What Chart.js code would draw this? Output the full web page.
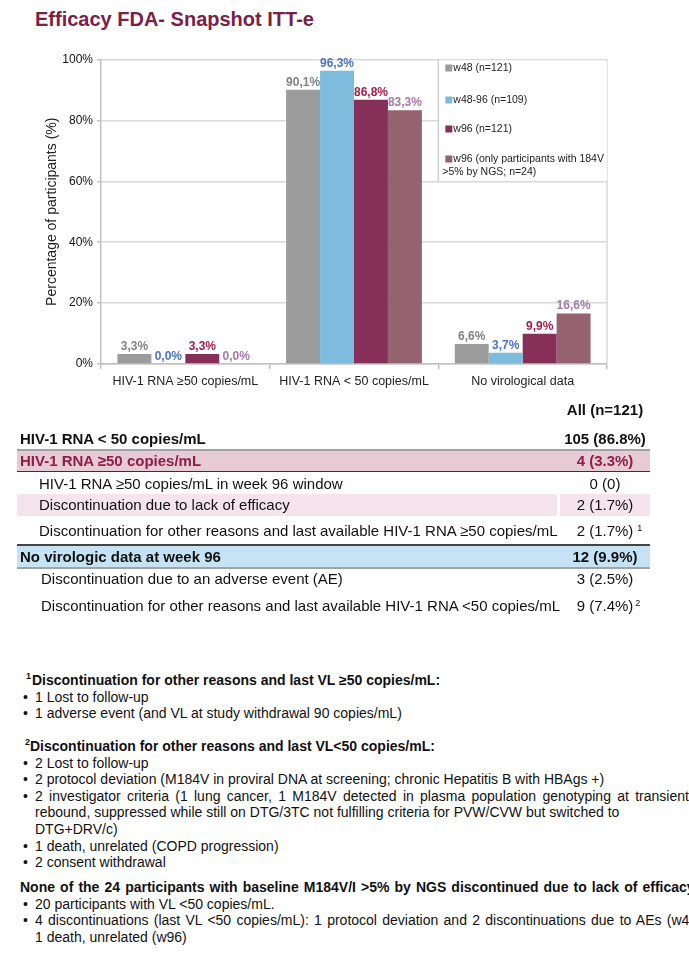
<!DOCTYPE html>
<html>
<head>
<meta charset="utf-8">
<script src="https://cdn.jsdelivr.net/npm/chart.js@4.4.1/dist/chart.umd.min.js"></script>
<style>
  html, body { margin: 0; padding: 0; background: #fff; }
  body { width: 689px; height: 956px; position: relative; overflow: hidden;
         font-family: "Liberation Sans", Arial, sans-serif; color: #111; }
  #title { position: absolute; left: 35px; top: 7px; font-size: 20px; font-weight: bold;
           color: #7B2146; line-height: 24px; white-space: nowrap; }
  #wrap { position: absolute; left: 0; top: 40px; width: 640px; height: 360px; }

  .ln { position: absolute; left: 17px; width: 633px; height: 22px; line-height: 22px;
        font-size: 15px; white-space: nowrap; }
  .ln .lab { position: absolute; left: 3px; top: 0; }
  .ln .lab.ind { left: 22px; }
  .ln .lab.ind2 { left: 24px; }
  .ln .val { position: absolute; left: 543px; width: 90px; top: 0; text-align: center; }
  .ln .sup { position: absolute; font-size: 9px; top: -5px; margin-left: 4px; }
  .b { font-weight: bold; }

  .fn { position: absolute; left: 0; width: 689px; font-size: 14px; line-height: 16.6px;
        white-space: nowrap; color: #111; }
  .fn .h { font-weight: bold; position: relative; }
  .fn .h .s { position: absolute; font-size: 9px; top: -4px; }
  .fn .bl { position: relative; padding-left: 35px; }
  .fn .bl::before { content: "\2022"; position: absolute; left: 23px; }
  .fn .cont { padding-left: 35px; }
</style>
</head>
<body>
<div id="title">Efficacy FDA- Snapshot ITT-e</div>
<div id="wrap"><canvas id="effChart"></canvas></div>

<!-- snapshot table -->
<div class="ln" style="top:399px"><span class="val b">All (n=121)</span></div>
<div class="ln b" style="top:428px;height:21px;line-height:21px;border-bottom:2px solid #A3A3A3">
  <span class="lab">HIV-1 RNA &lt; 50 copies/mL</span><span class="val">105 (86.8%)</span></div>
<div class="ln b" style="top:451px;height:20px;line-height:20px;background:#E6CBD5;color:#8E1D48;border-bottom:1.5px solid #333">
  <span class="lab">HIV-1 RNA ≥50 copies/mL</span><span class="val">4 (3.3%)</span></div>
<div class="ln" style="top:472.5px">
  <span class="lab ind">HIV-1 RNA ≥50 copies/mL in week 96 window</span><span class="val">0 (0)</span></div>
<div class="ln" style="top:494px">
  <span style="position:absolute;left:0;top:0;width:540px;height:22px;background:#F5E4EB"></span>
  <span style="position:absolute;left:543px;top:0;width:90px;height:22px;background:#F5E4EB"></span>
  <span class="lab ind">Discontinuation due to lack of efficacy</span><span class="val">2 (1.7%)</span></div>
<div class="ln" style="top:520px">
  <span class="lab ind">Discontinuation for other reasons and last available HIV-1 RNA ≥50 copies/mL</span>
  <span class="val"><span style="position:relative">2 (1.7%)<span class="sup">1</span></span></span></div>
<div class="ln b" style="top:544px;height:21px;line-height:21px;background:#C6E3F6;border-top:2px solid #444;border-bottom:2px solid #A3A3A3">
  <span class="lab">No virologic data at week 96</span><span class="val">12 (9.9%)</span></div>
<div class="ln" style="top:568px">
  <span class="lab ind2">Discontinuation due to an adverse event (AE)</span><span class="val">3 (2.5%)</span></div>
<div class="ln" style="top:595px">
  <span class="lab ind2">Discontinuation for other reasons and last available HIV-1 RNA &lt;50 copies/mL</span>
  <span class="val"><span style="position:relative">9 (7.4%)<span class="sup" style="margin-left:2px">2</span></span></span></div>

<!-- footnotes -->
<div class="fn" style="top:672px">
  <div class="h"><span class="s" style="left:26px">1</span><span style="padding-left:32px">Discontinuation for other reasons and last VL ≥50 copies/mL:</span></div>
  <div class="bl">1 Lost to follow-up</div>
  <div class="bl">1 adverse event (and VL at study withdrawal 90 copies/mL)</div>
</div>
<div class="fn" style="top:738px">
  <div class="h"><span class="s" style="left:25px">2</span><span style="padding-left:30px">Discontinuation for other reasons and last VL&lt;50 copies/mL:</span></div>
  <div class="bl">2 Lost to follow-up</div>
  <div class="bl">2 protocol deviation (M184V in proviral DNA at screening; chronic Hepatitis B with HBAgs +)</div>
  <div class="bl" style="word-spacing:2.4px">2 investigator criteria (1 lung cancer, 1 M184V detected in plasma population genotyping at transient</div>
  <div class="cont">rebound, suppressed while still on DTG/3TC not fulfilling criteria for PVW/CVW but switched to</div>
  <div class="cont">DTG+DRV/c)</div>
  <div class="bl">1 death, unrelated (COPD progression)</div>
  <div class="bl">2 consent withdrawal</div>
</div>
<div class="fn" style="top:879px">
  <div class="h" style="padding-left:20px;word-spacing:1.2px">None of the 24 participants with baseline M184V/I &gt;5% by NGS discontinued due to lack of efficacy</div>
  <div class="bl">20 participants with VL &lt;50 copies/mL.</div>
  <div class="bl" style="word-spacing:1.4px">4 discontinuations (last VL &lt;50 copies/mL): 1 protocol deviation and 2 discontinuations due to AEs (w48),</div>
  <div class="cont">1 death, unrelated (w96)</div>
</div>

<script>
// Snapshot efficacy chart
const categories = ['HIV-1 RNA ≥50 copies/mL', 'HIV-1 RNA < 50 copies/mL', 'No virological data'];
const legendLines = [
  ['w48 (n=121)'],
  ['w48-96 (n=109)'],
  ['w96 (n=121)'],
  ['w96 (only participants with 184V', '>5% by NGS; n=24)'],
];
const w48 = [3.3, 90.1, 6.6];
const w48to96 = [0.0, 96.3, 3.7];
const w96 = [3.3, 86.8, 9.9];
const w96ngs = [0.0, 83.3, 16.6];
const yTicks = [0, 20, 40, 60, 80, 100];

const FONT = '"Liberation Sans", Arial, sans-serif';
const BAR_COLORS = ['#9B9B9B', '#7EBCDD', '#852F59', '#95636F'];
const LABEL_COLORS = ['#828282', '#4A72C6', '#A31D4C', '#A878AC'];
const GRID = '#D9D9D9';

Chart.defaults.font.family = FONT;
Chart.defaults.color = '#222';

// ── value labels above bars ───────────────────────────────
const barLabels = {
  id: 'barLabels',
  afterDatasetsDraw(chart) {
    const ctx = chart.ctx;
    ctx.save();
    ctx.font = 'bold 12px ' + FONT;
    ctx.textAlign = 'center';
    ctx.textBaseline = 'alphabetic';
    chart.data.datasets.forEach((ds, i) => {
      ctx.fillStyle = LABEL_COLORS[i];
      chart.getDatasetMeta(i).data.forEach((bar, j) => {
        const txt = ds.data[j].toFixed(1).replace('.', ',') + '%';
        ctx.fillText(txt, bar.x, bar.y - 4);
      });
    });
    ctx.restore();
  }
};

// ── boxed legend inside the plot (upper right) ───────────
const boxLegend = {
  id: 'boxLegend',
  afterDatasetsDraw(chart) {
    const { ctx, chartArea, scales } = chart;
    const step = scales.x.getPixelForValue(2) - scales.x.getPixelForValue(1);
    const x0 = scales.x.getPixelForValue(2) - step / 2;
    const yBottom = scales.y.getPixelForValue(60);
    const top = chartArea.top;
    ctx.save();
    ctx.fillStyle = '#fff';
    ctx.fillRect(x0, top + 1, chartArea.right - x0, yBottom - top - 2);
    ctx.strokeStyle = '#CFCFCF';
    ctx.lineWidth = 1.5;
    ctx.beginPath();
    ctx.moveTo(x0, top);
    ctx.lineTo(x0, yBottom);
    ctx.stroke();

    const offsets = [8.5, 40.5, 69.5, 99.5];
    ctx.font = '10.5px ' + FONT;
    ctx.textBaseline = 'middle';
    ctx.textAlign = 'left';
    legendLines.forEach((lines, i) => {
      const y = top + offsets[i];
      ctx.fillStyle = BAR_COLORS[i];
      ctx.fillRect(x0 + 7, y - 3.5, 7, 7);
      ctx.fillStyle = '#222';
      ctx.fillText(lines[0], x0 + 15, y);
      if (lines[1]) ctx.fillText(lines[1], x0 + 4, y + 13);
    });
    ctx.restore();
  }
};

// ── right border of the plot ─────────────────────────────
const rightBorder = {
  id: 'rightBorder',
  beforeDatasetsDraw(chart) {
    const { ctx, chartArea } = chart;
    ctx.save();
    ctx.strokeStyle = GRID;
    ctx.lineWidth = 1.5;
    ctx.beginPath();
    ctx.moveTo(chartArea.right, chartArea.top);
    ctx.lineTo(chartArea.right, chartArea.bottom);
    ctx.stroke();
    ctx.restore();
  }
};

const series = [w48, w48to96, w96, w96ngs];

new Chart(document.getElementById('effChart'), {
  type: 'bar',
  data: {
    labels: categories,
    datasets: series.map((vals, i) => ({
      label: legendLines[i].join(' '),
      data: vals,
      backgroundColor: BAR_COLORS[i],
      borderWidth: 0,
      barPercentage: 1,
      categoryPercentage: 0.805,
    }))
  },
  options: {
    responsive: true,
    maintainAspectRatio: false,
    animation: false,
    devicePixelRatio: 1,
    layout: { padding: { top: 19.5, right: 33, left: 0, bottom: 0 } },
    plugins: {
      legend: { display: false },
      tooltip: { enabled: false }
    },
    scales: {
      x: {
        afterFit: (s) => { s.height = 36; },
        grid: { offset: true, drawOnChartArea: false, tickLength: 5, color: '#BFBFBF', lineWidth: 1.5 },
        border: { color: '#BFBFBF', width: 1.5 },
        ticks: { color: '#222', font: { size: 12.5 }, padding: 5, maxRotation: 0 }
      },
      y: {
        min: 0,
        max: 100,
        afterFit: (s) => { s.width = 101; },
        afterBuildTicks: (s) => { s.ticks = yTicks.map(v => ({ value: v })); },
        grid: { color: GRID, lineWidth: 1.5, tickLength: 4, tickColor: '#BFBFBF' },
        border: { color: '#BFBFBF', width: 1.5 },
        ticks: { color: '#111', font: { size: 12 }, padding: 4, callback: (v) => v + '%' },
        title: {
          display: true,
          text: 'Percentage of participants (%)',
          color: '#222',
          font: { size: 14 },
          padding: { top: 44, bottom: 0 }
        }
      }
    }
  },
  plugins: [rightBorder, boxLegend, barLabels]
});
</script>
</body>
</html>
